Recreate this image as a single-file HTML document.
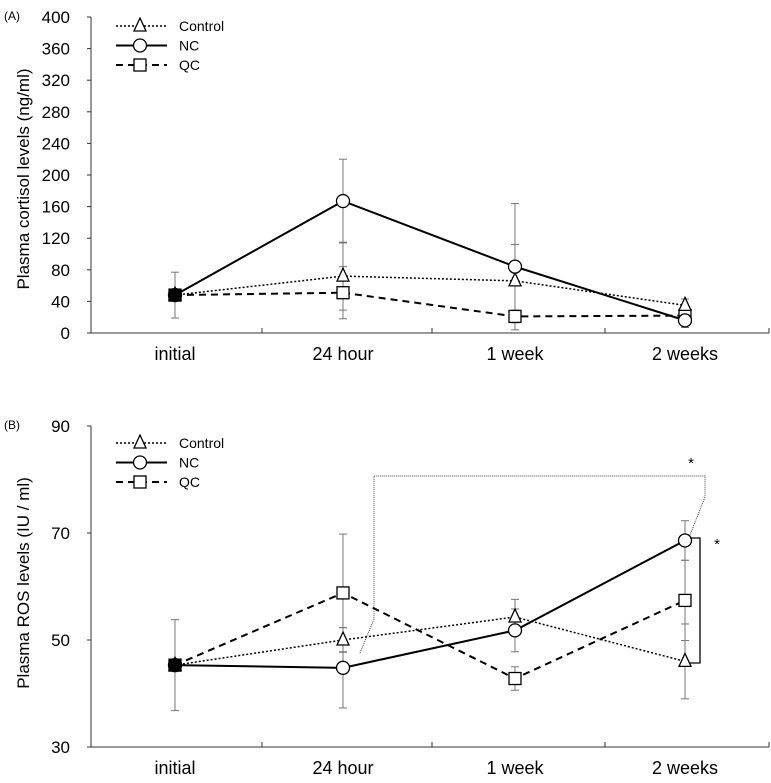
<!DOCTYPE html>
<html><head><meta charset="utf-8"><style>
html,body{margin:0;padding:0;background:#fff;width:771px;height:783px;overflow:hidden}
svg text{font-family:"Liberation Sans Narrow","Liberation Sans",sans-serif;fill:#000}
</style></head><body>
<svg id="c" width="771" height="783" viewBox="0 0 771 783" xmlns="http://www.w3.org/2000/svg"></svg>
<script>
const categories=["initial","24 hour","1 week","2 weeks"];
const seriesNames=["Control","NC","QC"];
const aTicks=[0,40,80,120,160,200,240,280,320,360,400];
const aControl=[48,72,66,35];
const aNC=[48,167,84,16];
const aQC=[48,51,21,22];
const aControlErr=[29,43,46,8];
const aNCErr=[0,53,80,9];
const aQCErr=[0,33,8,6];
const bTicks=[30,50,70,90];
const bControl=[45.3,50,54.3,46];
const bNC=[45.3,44.8,51.8,68.6];
const bQC=[45.3,58.8,42.8,57.4];
const bControlErr=[8.5,2.3,3.3,7];
const bNCErr=[0,7.5,4,3.7];
const bQCErr=[0,11,2.2,7.5];

const NS="http://www.w3.org/2000/svg";
const svg=document.getElementById('c');
function mk(tag,attrs,parent){const e=document.createElementNS(NS,tag);for(const k in attrs)e.setAttribute(k,attrs[k]);(parent||svg).appendChild(e);return e;}
const catX=[175,343,515,685];
function xPos(i){return catX[i];}
const dashes={"Control":"2,2","NC":"","QC":"7,5"};

function panel(p){
  const g=mk('g',{});
  
  
  const y=v=>p.y0+(v-p.min)/(p.max-p.min)*(p.y1-p.y0);
  const pl=mk('text',{x:4,y:p.y1+3,'font-size':12},g);pl.textContent=p.label;
  
  const ya=mk('line',{x1:91,y1:p.y1,x2:91,y2:p.y0,stroke:'#333','stroke-width':1},g);
  
  const xa=mk('line',{x1:91,y1:p.y0,x2:769,y2:p.y0,stroke:'#333','stroke-width':1},g);
  
  p.ticks.forEach(t=>{
    const ty=y(t);
    mk('line',{x1:87,y1:ty,x2:91,y2:ty,stroke:'#333'},g);
    const tl=mk('text',{x:70,y:ty+6,'font-size':17,'text-anchor':'end'},g);tl.textContent=t;
    
  });
  [262,432,605,769].forEach(tx=>mk('line',{x1:tx,y1:p.y0,x2:tx,y2:p.y0-5,stroke:'#333'},g));
  categories.forEach((c,i)=>{
    const t=mk('text',{x:xPos(i),y:p.y0+27,'font-size':18,'text-anchor':'middle'},g);t.textContent=c;
    
  });
  const yt=mk('text',{x:0,y:0,'font-size':17,'text-anchor':'middle','font-family':'Liberation Sans, sans-serif',fill:'#222',transform:`translate(29,${p.titleY}) rotate(-90)`},g);
  yt.textContent=p.title;
  const sets=[[p.c,p.ce],[p.n,p.ne],[p.q,p.qe]];
  sets.forEach(([vals,errs])=>{
    vals.forEach((v,i)=>{if(!errs[i])return;const x=xPos(i);
      const eb=mk('g',{stroke:'#777','stroke-width':1},g);
      
      mk('line',{x1:x,y1:y(v-errs[i]),x2:x,y2:y(v+errs[i])},eb);
      mk('line',{x1:x-4,y1:y(v-errs[i]),x2:x+4,y2:y(v-errs[i])},eb);
      mk('line',{x1:x-4,y1:y(v+errs[i]),x2:x+4,y2:y(v+errs[i])},eb);
    });
  });
  const data={"Control":p.c,"NC":p.n,"QC":p.q};
  ["Control","QC","NC"].forEach(s=>{
    const vals=data[s];
    const pts=vals.map((v,i)=>xPos(i)+','+y(v)).join(' ');
    const l=mk('polyline',{points:pts,fill:'none',stroke:'#000','stroke-width':s==='Control'?1.5:2,'stroke-dasharray':dashes[s]},g);
    
  });
  ["QC","Control","NC"].forEach(s=>{
    data[s].forEach((v,i)=>{
      const m=marker(s,xPos(i),y(v),i===0,g);
      
    });
  });
  const lg=mk('g',{},g);
  seriesNames.forEach((s,k)=>{
    const ly=p.legY+k*19.5;
    const e=mk('g',{},lg);
    mk('line',{x1:116,y1:ly,x2:167,y2:ly,stroke:'#000','stroke-width':s==='Control'?1.5:2,'stroke-dasharray':dashes[s]},e);
    marker(s,140,ly,false,e);
    const t=mk('text',{x:179,y:ly+5,'font-size':14},e);t.textContent=s;
  });
  return {g,y};
}
function marker(s,x,y,filled,parent){
  const f=filled?'#000':'#fff';
  if(s==='NC')return mk('circle',{cx:x,cy:y,r:6.5,fill:f,stroke:'#000','stroke-width':1.3},parent);
  if(s==='QC')return mk('rect',{x:x-6,y:y-6,width:12,height:12,fill:f,stroke:'#000','stroke-width':1.3},parent);
  return mk('polygon',{points:`${x},${y-8} ${x-6},${y+5} ${x+6},${y+5}`,fill:f,stroke:'#000','stroke-width':1.3},parent);
}
panel({name:'panel-a-cortisol',label:'(A)',y0:333,y1:17,min:0,max:400,ticks:aTicks,title:'Plasma cortisol levels (ng/ml)',titleY:179,
  c:aControl,n:aNC,q:aQC,ce:aControlErr,ne:aNCErr,qe:aQCErr,legY:26});
const B=panel({name:'panel-b-ros',label:'(B)',y0:357,y1:36,min:30,max:90,ticks:bTicks,title:'Plasma ROS levels (IU / ml)',titleY:193,
  c:bControl,n:bNC,q:bQC,ce:bControlErr,ne:bNCErr,qe:bQCErr,legY:53});
B.g.setAttribute('transform','translate(0,390)');
const sig1=mk('polyline',{points:'360,653 374,619 374,476 705,476 705,497 690,535',fill:'none',stroke:'#444','stroke-width':1,'stroke-dasharray':'1,1'});

const st1=mk('text',{x:691,y:468,'font-size':15,'text-anchor':'middle','font-family':'Liberation Sans, sans-serif'});st1.textContent='*';

const sig2=mk('polyline',{points:'690,538 700,538 700,663 690,663',fill:'none',stroke:'#000','stroke-width':1.3});

const st2=mk('text',{x:717,y:549,'font-size':15,'text-anchor':'middle','font-family':'Liberation Sans, sans-serif'});st2.textContent='*';

</script>
</body></html>
